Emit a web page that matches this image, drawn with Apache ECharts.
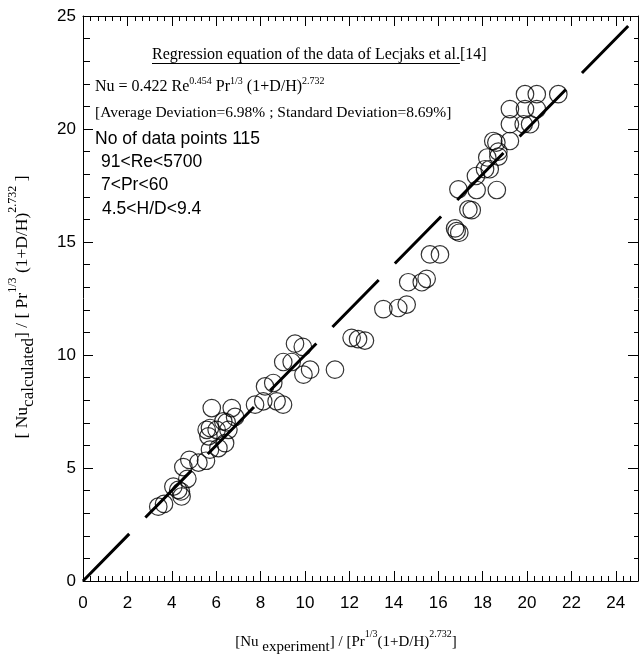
<!DOCTYPE html>
<html><head><meta charset="utf-8">
<script src="https://cdn.jsdelivr.net/npm/echarts@6/dist/echarts.min.js"></script>
<style>html,body{margin:0;padding:0;background:#fff}#c{width:640px;height:659px}</style>
</head><body><div id="c"></div>
<script>
// Data: [Nu_experiment-based, Nu_calculated-based]
const expVals = [3.39,3.65,4.07,4.29,4.41,4.44,4.70,4.52,4.79,5.20,5.54,5.72,6.10,5.57,5.65,5.72,6.02,6.40,6.55,6.32,6.47,6.85,6.70,5.80,7.75,8.12,8.72,9.01,8.20,8.57,9.02,9.40,9.93,10.23,9.55,9.90,11.35,12.10,12.39,12.70,
  13.53,14.20,14.58,14.65,15.26,15.48,15.63,16.08,16.76,16.83,16.95,17.36,17.51,16.91,17.73,18.64,17.70,18.11,18.32,18.21,18.71,18.71,18.48,18.62,19.23,19.23,19.85,20.14,19.23,19.91,20.44,19.91,20.44,21.41];
const calcVals = [3.29,3.41,4.18,4.03,3.96,3.74,4.52,5.04,5.36,5.24,5.32,5.81,5.88,6.69,6.40,6.77,6.69,6.10,6.69,7.06,7.02,7.26,7.65,7.65,7.80,7.95,7.95,7.80,8.61,8.76,9.69,9.69,9.13,9.35,10.50,10.36,9.35,10.76,10.70,10.64,
  12.03,12.08,12.23,13.22,13.22,13.37,14.45,14.45,15.60,15.48,15.41,16.44,16.41,17.33,17.30,17.30,17.92,18.22,18.22,18.74,18.78,19.00,19.47,19.40,19.47,20.21,20.21,20.21,20.88,20.88,20.88,21.54,21.54,21.54];
const lineX = [0, 24.7];
const xTicks = [0,2,4,6,8,10,12,14,16,18,20,22,24];
const yTicks = [0,5,10,15,20,25];

const scatterData = expVals.map((v,i)=>[v, calcVals[i]]);
const lineData = lineX.map(v=>[v,v]);

const serif = '"Liberation Serif","DejaVu Serif",serif';
const sans = '"Liberation Sans",Arial,sans-serif';

const chart = echarts.init(document.getElementById('c'), null, {renderer:'canvas'});

function mkAxisX(pos, showLabel, len, minorLen){
  return {
    type:'value', position:pos, min:0, max:25, interval:2,
    axisLine:{show:true, onZero:false, lineStyle:{color:'#000', width:1}},
    axisTick:{show:true, inside:true, length:len, lineStyle:{color:'#000'}},
    minorTick:{show:true, splitNumber:6, length:minorLen, lineStyle:{color:'#000'}},
    axisLabel:{show:showLabel, inside:false, margin:14, color:'#000', fontSize:17, fontFamily:sans, showMaxLabel:false,
      formatter:v=> xTicks.indexOf(v)>=0 ? String(v) : ''},
    splitLine:{show:false}
  };
}
function mkAxisY(pos, showLabel, len, minorLen){
  return {
    type:'value', position:pos, min:0, max:25, interval:5,
    axisLine:{show:true, onZero:false, lineStyle:{color:'#000', width:1}},
    axisTick:{show:true, inside:true, length:len, lineStyle:{color:'#000'}},
    minorTick:{show:true, splitNumber:5, length:minorLen, lineStyle:{color:'#000'}},
    axisLabel:{show:showLabel, margin:7, color:'#000', fontSize:17, fontFamily:sans,
      formatter:v=> yTicks.indexOf(v)>=0 ? String(v) : ''},
    splitLine:{show:false}
  };
}

const supStyle = {fontSize:10, fontFamily:serif, lineHeight:12, verticalAlign:'top', fill:'#000'};
const baseStyle = {fontSize:15, fontFamily:serif, lineHeight:26, verticalAlign:'middle', fill:'#000'};
const subStyle = {fontSize:15, fontFamily:serif, lineHeight:15, verticalAlign:'bottom', fill:'#000'};

const ySup = {fontSize:12, fontFamily:serif, lineHeight:13, verticalAlign:'top', fill:'#000'};
const yBase = {fontSize:17.5, fontFamily:serif, lineHeight:30, verticalAlign:'middle', fill:'#000'};
const ySub = {fontSize:17, fontFamily:serif, lineHeight:17, verticalAlign:'bottom', fill:'#000'};

// underline width measured from the actual text
const regFont = 16;
const mctx = document.createElement('canvas').getContext('2d');
mctx.font = regFont + 'px ' + serif;
const regMain = 'Regression equation of the data of Lecjaks et al.';
const regW = mctx.measureText(regMain).width;
const regX = 152;

const eqBase = {fontSize:16, fontFamily:serif, lineHeight:22, verticalAlign:'middle'};
const eqSup = {fontSize:10, fontFamily:serif, lineHeight:11, verticalAlign:'top'};

chart.setOption({
  animation:false,
  grid:{left:83, right:2, top:16, bottom:78, containLabel:false},
  xAxis:[mkAxisX('bottom', true, 10, 5), mkAxisX('top', false, 10, 5)],
  yAxis:[mkAxisY('left', true, 10, 7), mkAxisY('right', false, 10, 4)],
  series:[
    {type:'scatter', xAxisIndex:0, yAxisIndex:0, data:scatterData, symbol:'circle', symbolSize:17.5,
     itemStyle:{color:'rgba(0,0,0,0)', borderColor:'#000', borderWidth:1.2}, z:2, silent:true},
    {type:'line', xAxisIndex:0, yAxisIndex:0, data:lineData, symbol:'none',
     lineStyle:{color:'#000', width:3, type:[66,23], cap:'butt'}, z:3, silent:true}
  ],
  graphic:[
    {type:'text', x:regX, y:55, style:{text:'{a|'+regMain+'}{a|[14]}', textVerticalAlign:'middle',
      rich:{a:{fontSize:regFont, fontFamily:serif, fill:'#000'}}}},
    {type:'line', shape:{x1:regX, y1:63.5, x2:regX+regW, y2:63.5}, style:{stroke:'#000', lineWidth:1}},
    {type:'text', x:95, y:87, style:{text:'{b|Nu = 0.422 Re}{s|0.454}{b| Pr}{s|1/3}{b| (1+D/H)}{s|2.732}', textVerticalAlign:'middle',
      rich:{b:eqBase, s:eqSup}}},
    {type:'text', x:95, y:113, style:{text:'[Average Deviation=6.98% ; Standard Deviation=8.69%]', textVerticalAlign:'middle',
      font:'15.5px '+serif, fill:'#000'}},
    {type:'text', x:95, y:139, style:{text:'No of data points 115', textVerticalAlign:'middle', font:'17.5px '+sans, fill:'#000'}},
    {type:'text', x:101, y:162, style:{text:'91<Re<5700', textVerticalAlign:'middle', font:'17.5px '+sans, fill:'#000'}},
    {type:'text', x:101, y:185, style:{text:'7<Pr<60', textVerticalAlign:'middle', font:'17.5px '+sans, fill:'#000'}},
    {type:'text', x:102, y:209, style:{text:'4.5<H/D<9.4', textVerticalAlign:'middle', font:'17.5px '+sans, fill:'#000'}},
    {type:'text', x:346, y:642, style:{text:'{b|[Nu}{u| experiment}{b|] / [Pr}{s|1/3}{b|(1+D/H)}{s|2.732}{b|]}',
      textAlign:'center', textVerticalAlign:'middle', rich:{b:baseStyle, s:supStyle, u:subStyle}}},
    {type:'text', x:22, y:307, rotation:Math.PI/2, style:{text:'{b|[ Nu}{u|calculated}{b|] / [ Pr}{s|1/3}{b| (1+D/H)}{s|2.732}{b| ]}',
      textAlign:'center', textVerticalAlign:'middle', rich:{b:yBase, s:ySup, u:ySub}}}
  ]
});
</script></body></html>
